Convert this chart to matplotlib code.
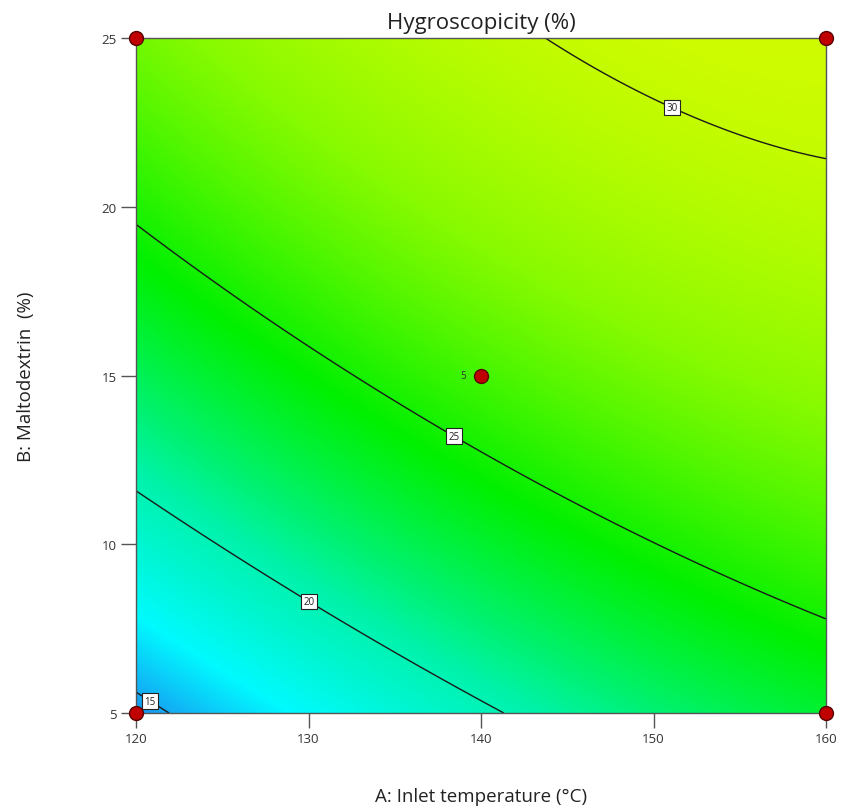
import numpy as np
import matplotlib
matplotlib.use("Agg")
import matplotlib.pyplot as plt
from matplotlib.colors import LinearSegmentedColormap, Normalize

plt.rcParams['font.family'] = ['Open Sans', 'DejaVu Sans']

# ---- data ----
A_range = [120, 160]          # Inlet temperature (°C)
B_range = [5, 25]             # Maltodextrin (%)
# quadratic response-surface coefficients (coded units): b0, A, B, AB, A^2, B^2
coef_b0 = 26.21
coef_A = 2.97
coef_B = 5.02
coef_AB = -1.47
coef_A2 = -0.85
coef_B2 = -1.48
contour_levels = [15, 20, 25, 30]
label_pos = [(121.0, 5.5), (130.2, 8.45), (138.6, 13.35), (151.2, 23.1)]
design_A = [120, 120, 160, 160, 140]
design_B = [5, 25, 5, 25, 15]
design_rep = ["", "", "", "", "5"]
x_ticks = [120, 130, 140, 150, 160]
y_ticks = [5, 10, 15, 20, 25]

# colour scale nodes (value, colour)
cnode_vals = [14.3, 17.0, 20.5, 24.5, 28.0, 31.5]
cnode_cols = ["#1a90f0", "#00faff", "#00f2a8", "#00f000", "#88fa00", "#eefc00"]

# ---- model grid ----
A = np.linspace(A_range[0], A_range[1], 300)
B = np.linspace(B_range[0], B_range[1], 300)
AA, BB = np.meshgrid(A, B)
a = (AA - 140) / 20.0
b = (BB - 15) / 10.0
Z = (coef_b0 + coef_A * a + coef_B * b + coef_AB * a * b
     + coef_A2 * a ** 2 + coef_B2 * b ** 2)

vmin, vmax = cnode_vals[0], cnode_vals[-1]
pos = [(v - vmin) / (vmax - vmin) for v in cnode_vals]
cmap = LinearSegmentedColormap.from_list("de", list(zip(pos, cnode_cols)))

fig = plt.figure(figsize=(8.46, 8.12), dpi=100)
ax = fig.add_axes([136 / 846, 1 - 714 / 812, 690 / 846, 675 / 812])

ax.pcolormesh(AA, BB, Z, cmap=cmap, norm=Normalize(vmin, vmax),
              shading="gouraud", rasterized=True)
cs = ax.contour(AA, BB, Z, levels=contour_levels, colors="#1a1a1a", linewidths=1.0)
lbls = ax.clabel(cs, fmt="%d", fontsize=7, inline=False, manual=label_pos)
for t in lbls:
    t.set_bbox(dict(boxstyle="square,pad=0.25", fc="white", ec="#222222", lw=0.8))
    t.set_color("#222222")
    t.set_rotation(0)

ax.scatter(design_A, design_B, s=100, c="#c00000", edgecolors="#5a0000",
           linewidths=1.0, zorder=5, clip_on=False)
for x, y, r in zip(design_A, design_B, design_rep):
    if r:
        ax.annotate(r, (x, y), xytext=(-11, 0), textcoords="offset points",
                    ha="right", va="center", fontsize=7, color="#333333")

ax.set_xlim(A_range)
ax.set_ylim(B_range)
ax.set_xticks(x_ticks)
ax.set_yticks(y_ticks)
ax.tick_params(direction="out", length=11, width=1, color="#555555",
               labelsize=9.5, labelcolor="#333333", pad=3)
for s in ax.spines.values():
    s.set_color("#555555")
    s.set_linewidth(1.0)

ax.set_title("Hygroscopicity (%)", fontsize=16, color="#222222", pad=7)
ax.set_xlabel("A: Inlet temperature (°C)", fontsize=13.5, color="#222222", labelpad=30)
ax.set_ylabel("B: Maltodextrin  (%)", fontsize=13.5, color="#222222", labelpad=48)

fig.savefig("out.png", dpi=100)
